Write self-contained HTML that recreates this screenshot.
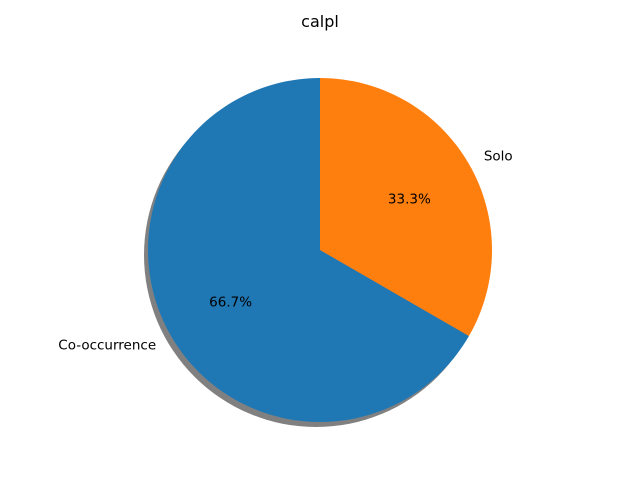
<!DOCTYPE html>
<html><head><meta charset="utf-8"><style>
body{margin:0;background:#fff}
svg{display:block;font-family:"DejaVu Sans","Liberation Sans",sans-serif}
</style></head><body>
<svg id="chart" width="640" height="480" viewBox="0 0 640 480">
<rect width="640" height="480" fill="#fff"/>
<text x="320" y="27" text-anchor="middle" font-size="16" fill="#000">calpl</text>
<g id="shadow"></g>
<g id="slices"></g>
<g id="labels"></g>
</svg>
<script>
const categories = ["Co-occurrence", "Solo"];
const values = [2, 1];
const colors = ["#1f77b4", "#ff7f0e"];
const cx = 320, cy = 250, R = 172;
const NS = "http://www.w3.org/2000/svg";
const total = values.reduce((a, b) => a + b, 0);
function pt(deg, r) { const a = deg * Math.PI / 180; return [cx + r * Math.cos(a), cy - r * Math.sin(a)]; }
function wedge(a0, a1, ox, oy) {
  const [x0, y0] = pt(a0, R), [x1, y1] = pt(a1, R);
  const large = (a1 - a0) > 180 ? 1 : 0;
  return `M${cx+ox},${cy+oy} L${x0+ox},${y0+oy} A${R},${R} 0 ${large} 0 ${x1+ox},${y1+oy} Z`;
}
const sh = document.createElementNS(NS, "circle");
sh.setAttribute("cx", cx - 4); sh.setAttribute("cy", cy + 5); sh.setAttribute("r", R);
sh.setAttribute("fill", "#555"); sh.setAttribute("opacity", "0.75");


document.getElementById("shadow").appendChild(sh);
let start = 90;
values.forEach((v, i) => {
  const sweep = v / total * 360;
  const end = start + sweep;
  const p = document.createElementNS(NS, "path");
  p.setAttribute("d", wedge(start, end, 0, 0));
  p.setAttribute("fill", colors[i]);
  
  
  document.getElementById("slices").appendChild(p);
  const mid = (start + end) / 2;
  const [lx, ly] = pt(mid, R * 1.1);
  const t = document.createElementNS(NS, "text");
  t.setAttribute("x", lx); t.setAttribute("y", ly + 5);
  t.setAttribute("font-size", "13.5");
  t.setAttribute("text-anchor", Math.cos(mid * Math.PI / 180) < 0 ? "end" : "start");
  t.textContent = categories[i];
  
  
  document.getElementById("labels").appendChild(t);
  const [px, py] = pt(mid, R * 0.6);
  const t2 = document.createElementNS(NS, "text");
  t2.setAttribute("x", px); t2.setAttribute("y", py + 5);
  t2.setAttribute("font-size", "13.5"); t2.setAttribute("text-anchor", "middle");
  t2.textContent = (v / total * 100).toFixed(1) + "%";
  
  
  document.getElementById("labels").appendChild(t2);
  start = end;
});
</script>
</body></html>
